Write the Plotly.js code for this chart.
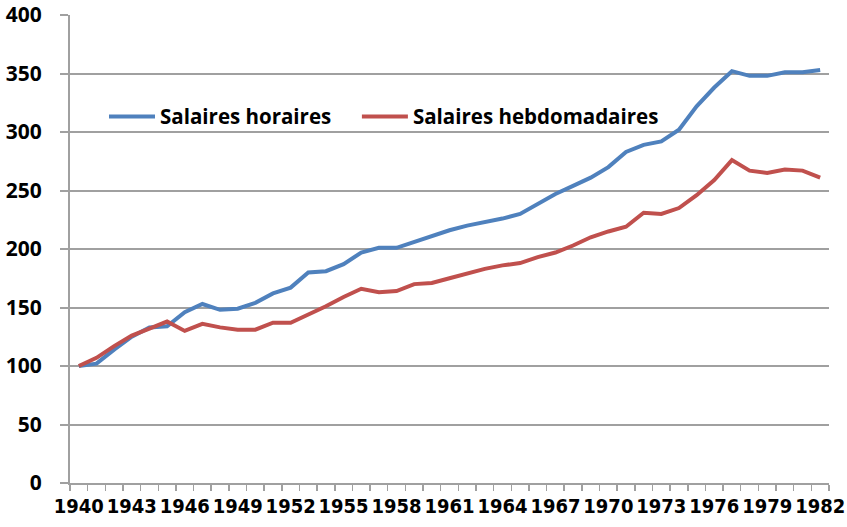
<!DOCTYPE html>
<html>
<head>
<meta charset="utf-8">
<script src="https://cdn.plot.ly/plotly-3.0.1.min.js"></script>
<style>html,body{margin:0;padding:0;background:#fff;}#chart{width:847px;height:527px;}</style>
</head>
<body>
<div id="chart"></div>
<script>
const years = [1940,1941,1942,1943,1944,1945,1946,1947,1948,1949,1950,1951,1952,1953,1954,1955,1956,1957,1958,1959,1960,1961,1962,1963,1964,1965,1966,1967,1968,1969,1970,1971,1972,1973,1974,1975,1976,1977,1978,1979,1980,1981,1982];
const salairesHoraires = [100,102,114,125,133,134,146,153,148,149,154,162,167,180,181,187,197,201,201,206,211,216,220,223,226,230,239,247,254,261,270,283,289,292,302,322,338,352,348,348,351,351,353];
const salairesHebdo = [100,107,117,126,132,138,130,136,133,131,131,137,137,144,151,159,166,163,164,170,171,175,179,183,186,188,193,197,203,210,215,219,231,230,235,246,259,276,267,265,268,267,261];
const tickYears = [1940,1943,1946,1949,1952,1955,1958,1961,1964,1967,1970,1973,1976,1979,1982];
const names = ['Salaires horaires','Salaires hebdomadaires'];

const grid = '#a0a0a0';
const traces = [
  {x: years, y: salairesHoraires, name: names[0], type: 'scatter', mode: 'lines',
   line: {color: '#4F81BD', width: 4}, legend: 'legend'},
  {x: years, y: salairesHebdo, name: names[1], type: 'scatter', mode: 'lines',
   line: {color: '#C0504D', width: 4}, legend: 'legend2'}
];
const legFont = {family: '"Open Sans", sans-serif', size: 20.5, weight: 'bold', color: '#000'};
const layout = {
  width: 847, height: 527,
  margin: {l: 70, r: 18, t: 15, b: 44},
  paper_bgcolor: '#fff', plot_bgcolor: '#fff',
  font: {family: '"Open Sans", sans-serif', color: '#000'},
  showlegend: true,
  legend: {orientation: 'h', x: 0.0448, xanchor: 'left', y: 0.783, yanchor: 'middle',
    bgcolor: 'rgba(0,0,0,0)', font: legFont, itemwidth: 46},
  legend2: {orientation: 'h', x: 0.378, xanchor: 'left', y: 0.783, yanchor: 'middle',
    bgcolor: 'rgba(0,0,0,0)', font: legFont, itemwidth: 46},
  xaxis: {
    range: [1939.5, 1982.5], tickmode: 'array', tickvals: tickYears, ticktext: tickYears.map(String),
    tickangle: 0,
    showgrid: false, zeroline: false, showline: true, linecolor: grid, linewidth: 2,
    ticks: 'outside', ticklen: 0, tickcolor: grid,
    minor: {ticks: 'outside', ticklen: 6, tickwidth: 1.5, tickcolor: grid, tickmode: 'linear', tick0: 1939.5, dtick: 1, showgrid: false},
    tickfont: {family: '"Liberation Sans Narrow", "DejaVu Sans Condensed", sans-serif', size: 20, weight: 'bold', color: '#000'},
    ticklabelstandoff: 4, fixedrange: true
  },
  yaxis: {
    range: [0, 400], tickmode: 'linear', tick0: 0, dtick: 50,
    showgrid: true, gridcolor: grid, gridwidth: 2, zeroline: false,
    showline: true, linecolor: grid, linewidth: 2,
    ticks: 'outside', ticklen: 8, tickwidth: 2, tickcolor: grid,
    tickfont: {family: '"Open Sans", sans-serif', size: 21, weight: 'bold', color: '#000'},
    ticklabelstandoff: 14, fixedrange: true
  }
};
Plotly.newPlot('chart', traces, layout, {displayModeBar: false, staticPlot: true});
</script>
</body>
</html>
